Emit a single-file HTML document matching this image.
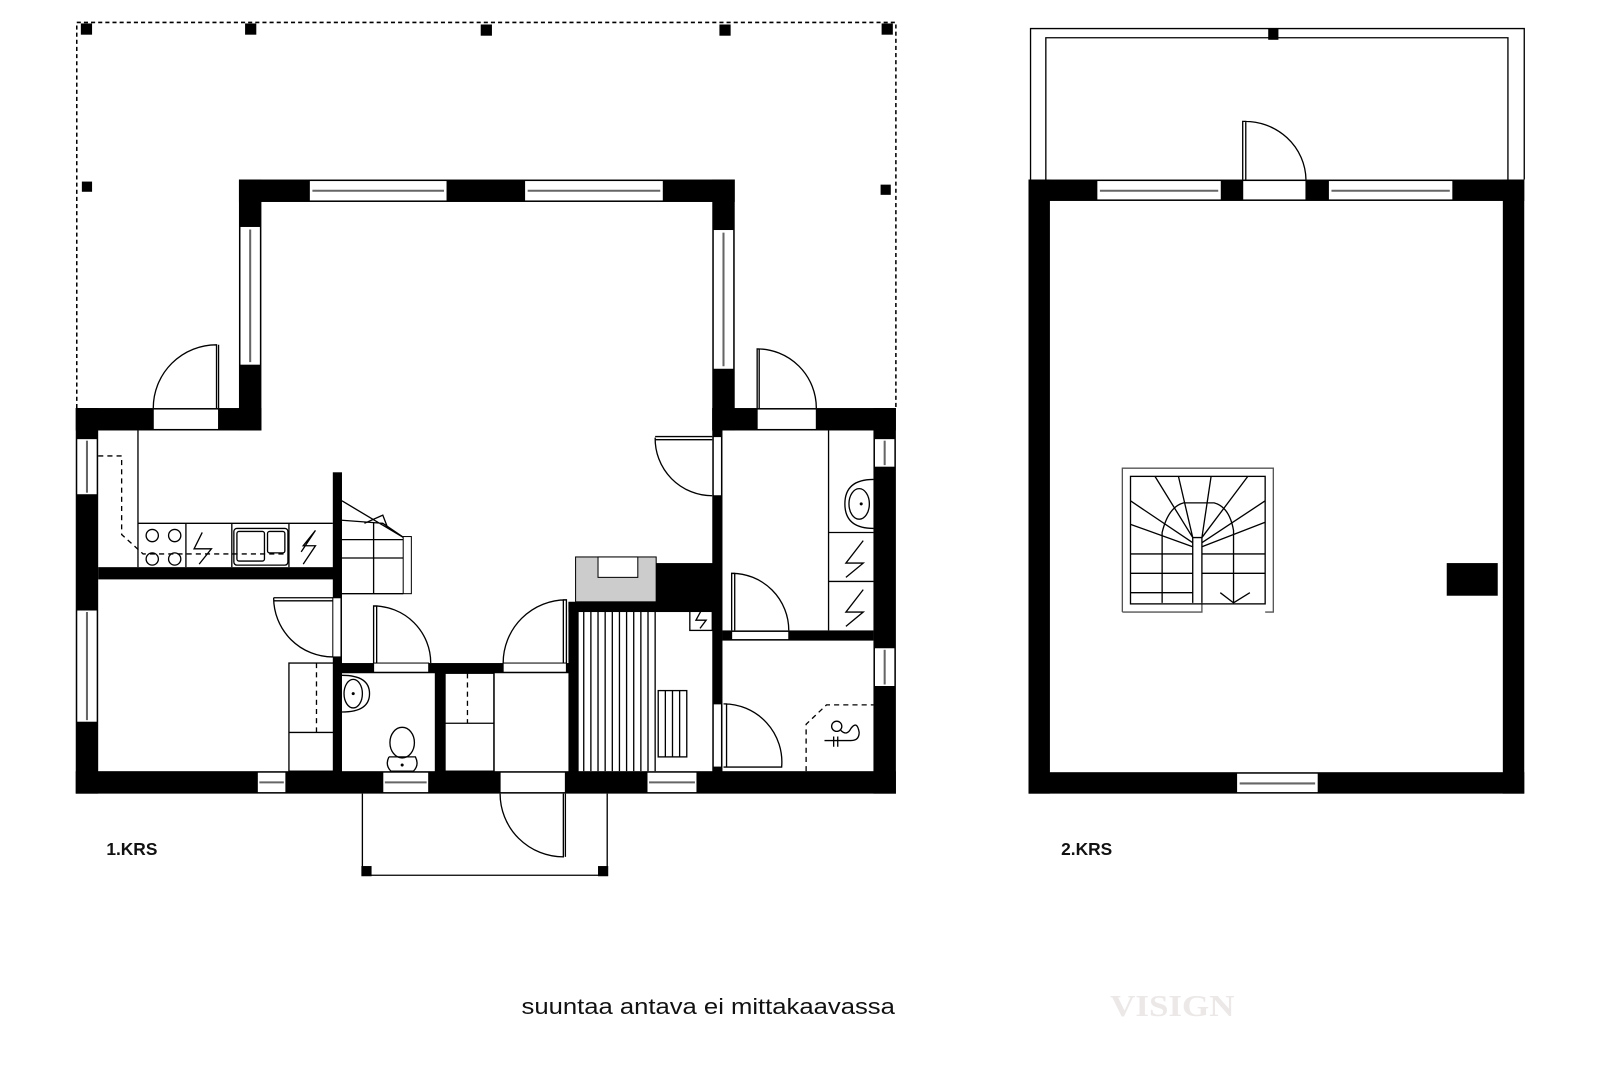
<!DOCTYPE html>
<html><head><meta charset="utf-8"><style>
html,body{margin:0;padding:0;background:#fff;}
svg{display:block;}
</style></head><body>
<svg width="1600" height="1067" viewBox="0 0 1568 1046" xmlns="http://www.w3.org/2000/svg">
<defs>
<style>
.w{fill:#000}
.o{fill:#fff;stroke:#000;stroke-width:1}
.l{fill:none;stroke:#000;stroke-width:1.3}
.d{fill:none;stroke:#000;stroke-width:1.3;stroke-dasharray:5 4}
.g{stroke:#666;stroke-width:2}
</style>
</defs>
<rect width="1568" height="1046" fill="#fff"/>

<!-- ===== 1.KRS ===== -->
<!-- dotted terrace outline -->
<polyline points="75,400 75,22 878,22 878,400" fill="none" stroke="#000" stroke-width="1.5" stroke-dasharray="4 3"/>
<g class="w">
<rect x="79" y="23" width="11" height="11"/><rect x="240" y="23" width="11" height="11"/>
<rect x="471" y="24" width="11" height="11"/><rect x="705" y="24" width="11" height="11"/>
<rect x="864" y="23" width="11" height="11"/><rect x="80" y="178" width="10" height="10"/>
<rect x="863" y="181" width="10" height="10"/>
</g>

<!-- exterior walls -->
<g class="w">
<rect x="234" y="176" width="486" height="22"/>
<rect x="234" y="176" width="22" height="246"/>
<rect x="698" y="176" width="22" height="246"/>
<rect x="74" y="400" width="182" height="22"/>
<rect x="698" y="400" width="180" height="22"/>
<rect x="74" y="400" width="22" height="378"/>
<rect x="856" y="400" width="22" height="378"/>
<rect x="74" y="756" width="804" height="22"/>
</g>
<!-- windows horizontal -->
<g>
<rect class="o" x="303" y="177" width="135" height="20"/><line class="g" x1="306" y1="187" x2="435" y2="187"/>
<rect class="o" x="514" y="177" width="136" height="20"/><line class="g" x1="517" y1="187" x2="647" y2="187"/>
<rect class="o" x="252" y="757" width="28" height="20"/><line class="g" x1="254" y1="767" x2="278" y2="767"/>
<rect class="o" x="375" y="757" width="45" height="20"/><line class="g" x1="377" y1="767" x2="418" y2="767"/>
<rect class="o" x="634" y="757" width="49" height="20"/><line class="g" x1="636" y1="767" x2="681" y2="767"/>
</g>
<!-- windows vertical -->
<g>
<rect class="o" x="235" y="222" width="20" height="136"/><line class="g" x1="245" y1="225" x2="245" y2="355"/>
<rect class="o" x="699" y="225" width="20" height="137"/><line class="g" x1="709" y1="228" x2="709" y2="359"/>
<rect class="o" x="75" y="430" width="20" height="55"/><line class="g" x1="85" y1="432" x2="85" y2="483"/>
<rect class="o" x="75" y="598" width="20" height="110"/><line class="g" x1="85" y1="600" x2="85" y2="706"/>
<rect class="o" x="857" y="430" width="20" height="28"/><line class="g" x1="867" y1="432" x2="867" y2="456"/>
<rect class="o" x="857" y="635" width="20" height="38"/><line class="g" x1="867" y1="637" x2="867" y2="671"/>
</g>
<!-- exterior doors -->
<rect class="o" x="150" y="401" width="64" height="20"/>
<path class="l" d="M150,400 A62,62 0 0 1 212,338 L212,400 M214,338 L214,400"/>
<rect class="o" x="742" y="401" width="58" height="20"/>
<path class="l" d="M800,400 A58,58 0 0 0 742,342 L742,400 M744,342 L744,400"/>
<rect class="o" x="490" y="757" width="64" height="20"/>
<path class="l" d="M490,778 A62,62 0 0 0 552,840 L552,778 M554,778 L554,840"/>

<!-- porch -->
<path class="l" d="M355,778 L355,858 L595,858 L595,778"/>
<rect class="w" x="354" y="849" width="10" height="10"/><rect class="w" x="586" y="849" width="10" height="10"/>

<!-- interior walls -->
<g class="w">
<rect x="96" y="556" width="234" height="12"/>
<rect x="326" y="463" width="9" height="297"/>
<rect x="330" y="650" width="230" height="10"/>
<rect x="426" y="655" width="10" height="105"/>
<rect x="557" y="590" width="10" height="170"/>
<rect x="557" y="590" width="143" height="10"/>
<rect x="643" y="552" width="57" height="40"/>
<rect x="698" y="400" width="10" height="360"/>
<rect x="708" y="618" width="148" height="10"/>
</g>
<!-- interior door openings -->
<rect class="o" x="326" y="586" width="8" height="58"/>
<path class="l" d="M268,586 L326,586 M268,589 L326,589 M268,586 A58,58 0 0 0 326,644"/>
<rect class="o" x="366" y="650" width="54" height="9"/>
<path class="l" d="M366,650 L366,594 L369,594 L369,650 M366,594 A56,56 0 0 1 422,650"/>
<rect class="o" x="493" y="650" width="62" height="9"/>
<path class="l" d="M555,650 L555,588 L552,588 L552,650 M555,588 A62,62 0 0 0 493,650"/>
<rect class="o" x="699" y="428" width="8" height="58"/>
<path class="l" d="M642,428 L698,428 M642,431 L698,431 M642,429 A56,56 0 0 0 698,486"/>
<rect class="o" x="699" y="690" width="8" height="62"/>
<path class="l" d="M709,690 L712,690 L712,752 M709,690 A57,57 0 0 1 766,752 L709,752"/>
<rect class="o" x="717" y="619" width="56" height="8"/>
<path class="l" d="M717,618 L717,562 L720,562 L720,618 M717,562 A56,56 0 0 1 773,618"/>

<!-- kitchen -->
<path class="l" d="M135,422 L135,556 M135,513 L326,513 M182,513 L182,556 M227,513 L227,556 M283,513 L283,556"/>
<circle class="l" cx="149" cy="525" r="6"/><circle class="l" cx="171" cy="525" r="6"/>
<circle class="l" cx="149" cy="548" r="6"/><circle class="l" cx="171" cy="548" r="6"/>
<rect class="l" x="229" y="518" width="53" height="36" rx="3"/>
<rect class="l" x="232" y="521" width="27" height="29" rx="2"/><rect class="l" x="262" y="521" width="17" height="21" rx="2"/>
<path class="l" d="M295,541 L309,520 L297,535 L309,535 L297,553" />
<path class="l" d="M198,522 L190,538 L207,538 L195,553"/>
<path class="d" d="M96,447 L119,447 L119,524 L140,543 L281,543"/>

<!-- stair 1st floor -->
<path class="l" d="M335,491 L397,528 M335,510 L375,513 L397,528 M366,513 L366,582 M335,529 L397,529 M335,547 L397,547 M357,513 L375,505 L380,518"/>
<rect class="o" x="395" y="526" width="8" height="56"/>
<path class="l" d="M335,582 L395,582"/>

<!-- bedroom closet -->
<rect class="l" x="283" y="650" width="44" height="106"/>
<line class="l" x1="283" y1="718" x2="327" y2="718"/>
<line class="d" x1="310" y1="650" x2="310" y2="718"/>
<!-- WC -->
<path class="l" d="M335,662 Q362,662 362,680 Q362,698 335,698"/>
<ellipse class="l" cx="346" cy="680" rx="9" ry="14"/>
<circle cx="346" cy="680" r="1.5"/>
<ellipse class="l" cx="394" cy="728" rx="12" ry="15"/>
<path class="l" d="M381,742 L407,742 Q411,750 405,756 L383,756 Q377,750 381,742"/>
<circle cx="394" cy="750" r="1.5"/>
<!-- closet 2 -->
<rect class="l" x="436" y="660" width="48" height="96"/>
<line class="l" x1="436" y1="709" x2="484" y2="709"/>
<line class="d" x1="458" y1="660" x2="458" y2="709"/>
<line class="l" x1="484" y1="660" x2="484" y2="756"/>

<!-- fireplace -->
<rect x="564" y="546" width="79" height="44" fill="#ccc" stroke="#000" stroke-width="1"/>
<rect class="o" x="586" y="546" width="39" height="20"/>
<!-- sauna bench -->
<g class="l">
<line x1="572" y1="600" x2="572" y2="756"/><line x1="579" y1="600" x2="579" y2="756"/>
<line x1="586" y1="600" x2="586" y2="756"/><line x1="593" y1="600" x2="593" y2="756"/>
<line x1="600" y1="600" x2="600" y2="756"/><line x1="607" y1="600" x2="607" y2="756"/>
<line x1="614" y1="600" x2="614" y2="756"/><line x1="621" y1="600" x2="621" y2="756"/>
<line x1="628" y1="600" x2="628" y2="756"/><line x1="635" y1="600" x2="635" y2="756"/>
<line x1="642" y1="600" x2="642" y2="756"/>
<rect x="645" y="677" width="28" height="65"/>
<line x1="652" y1="677" x2="652" y2="742"/><line x1="659" y1="677" x2="659" y2="742"/><line x1="666" y1="677" x2="666" y2="742"/>
</g>
<rect class="l" x="676" y="594" width="22" height="24"/>
<path class="l" d="M688,597 L682,608 L692,608 L686,616"/>

<!-- washroom -->
<path class="l" d="M812,422 L812,618 M812,522 L856,522 M812,570 L856,570"/>
<path class="l" d="M856,470 Q828,470 828,494 Q828,518 856,518"/>
<ellipse class="l" cx="842" cy="494" rx="10" ry="15"/>
<circle cx="844" cy="494" r="1.5"/>
<path class="l" d="M846,530 L829,552 L846,552 L829,566"/>
<path class="l" d="M846,578 L829,600 L846,600 L829,614"/>
<!-- utility -->
<path class="d" d="M790,756 L790,710 L810,691 L856,691"/>
<circle class="l" cx="820" cy="712" r="5"/>
<path class="l" d="M824,716 Q830,722 834,714 Q840,706 842,718 Q842,726 834,726 L808,726 M817,722 L817,732 M821,722 L821,732"/>

<!-- ===== 2.KRS ===== -->
<path class="l" d="M1010,176 L1010,28 L1494,28 L1494,176 M1025,176 L1025,37 L1478,37 L1478,176"/>
<rect class="w" x="1243" y="28" width="10" height="11"/>
<g class="w">
<rect x="1008" y="176" width="486" height="21"/>
<rect x="1008" y="176" width="21" height="602"/>
<rect x="1473" y="176" width="21" height="602"/>
<rect x="1008" y="757" width="486" height="21"/>
<rect x="1418" y="552" width="50" height="32"/>
</g>
<rect class="o" x="1075" y="177" width="122" height="19"/><line class="g" x1="1078" y1="187" x2="1194" y2="187"/>
<rect class="o" x="1302" y="177" width="122" height="19"/><line class="g" x1="1305" y1="187" x2="1421" y2="187"/>
<rect class="o" x="1212" y="758" width="80" height="19"/><line class="g" x1="1215" y1="768" x2="1289" y2="768"/>
<rect class="o" x="1218" y="177" width="62" height="19"/>
<path class="l" d="M1218,176 L1218,119 L1221,119 L1221,176 M1218,119 A60,58 0 0 1 1280,176"/>

<!-- upstairs stair -->
<path fill="none" stroke="#555" stroke-width="1.3" d="M1100,600 L1100,459 L1248,459 L1248,600 L1240,600 M1100,600 L1178,600 L1178,591"/>
<g class="l">
<rect x="1108" y="467" width="132" height="125"/>
<path d="M1169,591 L1169,527 L1178,527 L1178,591"/>
<path d="M1139,591 L1139,522 Q1145,497 1160,493 L1190,493 Q1205,497 1209,520 L1209,591"/>
<path d="M1108,543 L1169,543 M1108,562 L1169,562 M1108,581 L1169,581 M1178,543 L1240,543 M1178,562 L1240,562"/>
<path d="M1108,491 L1169,532 M1108,514 L1169,536 M1132,467 L1169,527 M1155,467 L1169,527 M1187,467 L1178,527 M1223,467 L1178,527 M1240,491 L1178,532 M1240,512 L1178,536"/>
<path d="M1196,581 L1209,591 L1225,581"/>
</g>

<!-- labels -->
<text x="104" y="838" font-family="Liberation Sans, sans-serif" font-size="17" font-weight="bold" fill="#111">1.KRS</text>
<text x="1040" y="838" font-family="Liberation Sans, sans-serif" font-size="17" font-weight="bold" fill="#111">2.KRS</text>
<text x="511" y="994" font-family="Liberation Sans, sans-serif" font-size="22" fill="#111" textLength="366" lengthAdjust="spacingAndGlyphs">suuntaa antava ei mittakaavassa</text>
<text x="1088" y="996" font-family="Liberation Serif, serif" font-size="30" font-weight="bold" fill="#ece8e8" textLength="122" lengthAdjust="spacingAndGlyphs">VISIGN</text>
</svg>
</body></html>
